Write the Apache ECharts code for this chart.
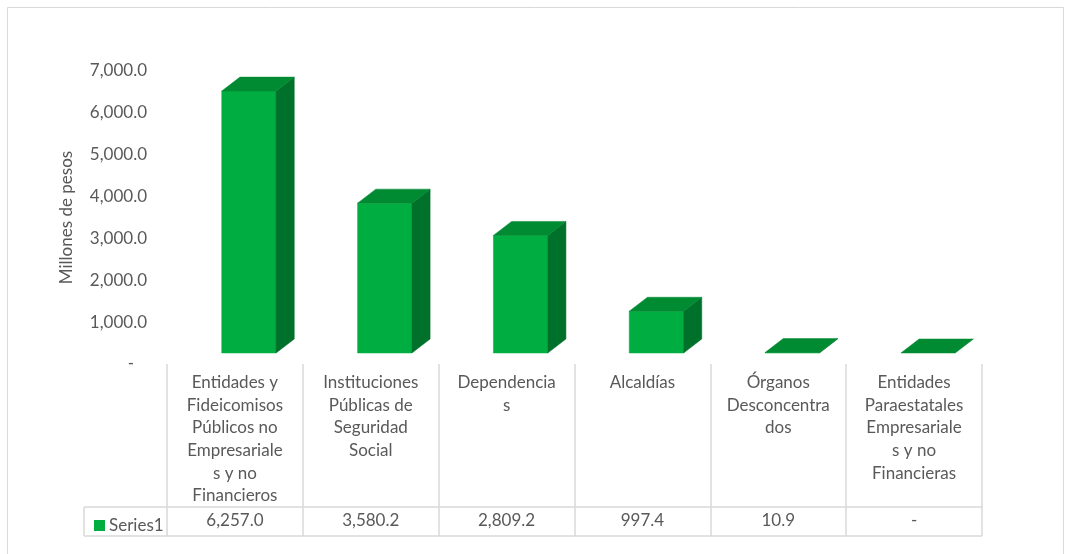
<!DOCTYPE html>
<html>
<head>
<meta charset="utf-8">
<script src="https://cdn.jsdelivr.net/npm/echarts@6/dist/echarts.min.js"></script>
<style>
html,body{margin:0;padding:0;background:#fff;}
#c{width:1065px;height:554px;}
</style>
</head>
<body>
<div id="c"></div>
<script>
// ---- data ----
const categories = [
  'Entidades y Fideicomisos Públicos no Empresariales y no Financieros',
  'Instituciones Públicas de Seguridad Social',
  'Dependencias',
  'Alcaldías',
  'Órganos Desconcentrados',
  'Entidades Paraestatales Empresariales y no Financieras'
];
// wrapped as shown in the chart's data table
const categoryLabels = [
  'Entidades y\nFideicomisos\nPúblicos no\nEmpresariale\ns y no\nFinancieros',
  'Instituciones\nPúblicas de\nSeguridad\nSocial',
  'Dependencia\ns',
  'Alcaldías',
  'Órganos\nDesconcentra\ndos',
  'Entidades\nParaestatales\nEmpresariale\ns y no\nFinancieras'
];
const seriesName = 'Series1';
const values = [6257.0, 3580.2, 2809.2, 997.4, 10.9, 0];
const yTicks = [0, 1000, 2000, 3000, 4000, 5000, 6000, 7000];

const FONT = 'Lato, "Open Sans", sans-serif';
const FS = 17;
const GRAY = '#595959';
const LINE = '#d9d9d9';
const FRONT = '#00AD41', TOP = '#008A32', SIDE = '#00712A';

function fmt(v) {
  if (v === 0) return '-';
  return v.toLocaleString('en-US', {minimumFractionDigits: 1, maximumFractionDigits: 1});
}

const chart = echarts.init(document.getElementById('c'));

const option = {
  backgroundColor: '#fff',
  animation: false,
  grid: {left: 167, right: 83, top: 71, bottom: 190},
  legend: {
    data: [seriesName], left: 89, top: 512,
    itemWidth: 11, itemHeight: 11, itemGap: 4, icon: 'rect',
    textStyle: {color: GRAY, fontSize: FS, fontFamily: FONT, padding: [0, 0, 0, -1]}
  },
  xAxis: [{
    type: 'category', data: categories, position: 'bottom',
    axisLine: {show: false},
    axisTick: {show: true, length: 172, lineStyle: {color: LINE, width: 1.5}},
    axisLabel: {
      interval: 0, margin: 7, color: GRAY, fontSize: FS, fontFamily: FONT,
      lineHeight: 22.7, verticalAlign: 'top', align: 'center',
      formatter: (val, idx) => categoryLabels[idx]
    },
    splitLine: {show: false}
  }, {
    type: 'category', data: categories, position: 'bottom',
    axisLine: {show: false}, axisTick: {show: false},
    axisLabel: {
      interval: 0, margin: 157, color: GRAY, fontSize: FS, fontFamily: FONT,
      verticalAlign: 'middle', formatter: (val, idx) => fmt(values[idx])
    }
  }],
  yAxis: {
    type: 'value', min: 0, max: 7000, interval: 1000,
    name: 'Millones de pesos', nameLocation: 'middle', nameGap: 92, nameRotate: 90,
    nameTextStyle: {color: GRAY, fontSize: FS, fontFamily: FONT},
    axisLine: {show: false}, axisTick: {show: false}, splitLine: {show: false},
    axisLabel: {
      color: GRAY, fontSize: FS, fontFamily: FONT, margin: 20,
      formatter: v => (yTicks.indexOf(v) >= 0 ? (v === 0 ? '-   ' : fmt(v)) : '')
    }
  },
  series: [{
    name: seriesName, type: 'custom', xAxisIndex: 0,
    itemStyle: {color: FRONT},
    data: values.map((v, i) => [i, v]),
    renderItem: function (params, api) {
      const i = api.value(0), v = api.value(1);
      const p0 = api.coord([i, 0]);
      const p1 = api.coord([i, v]);
      const colW = api.size([1, 0])[0];
      const fw = colW * 0.4;
      const cx = p0[0] + colW * 0.103;
      const shift = -11;
      const dx = colW * 0.134, dy = colW * 0.103;
      const x0 = cx - fw / 2, x1 = cx + fw / 2;
      const yb = p0[1] + shift, yt = p1[1] + shift;
      const children = [];
      if (yb - yt > 0.3) {
        children.push({type: 'rect', shape: {x: x0, y: yt, width: fw, height: yb - yt},
          style: {fill: FRONT, stroke: FRONT, lineWidth: 0.5}});
        children.push({type: 'polygon', shape: {points: [[x1, yt], [x1 + dx, yt - dy], [x1 + dx, yb - dy], [x1, yb]]},
          style: {fill: SIDE, stroke: SIDE, lineWidth: 0.5}});
      }
      children.push({type: 'polygon', shape: {points: [[x0, yt], [x1, yt], [x1 + dx, yt - dy], [x0 + dx, yt - dy]]},
        style: {fill: TOP, stroke: TOP, lineWidth: 0.5}});
      return {type: 'group', children: children};
    }
  }]
};
chart.setOption(option);

// table lines and chart frame
const gx0 = chart.convertToPixel({xAxisIndex: 0}, 0) - 0; // center of first category
const colW = chart.convertToPixel({xAxisIndex: 0}, 1) - chart.convertToPixel({xAxisIndex: 0}, 0);
const left = gx0 - colW / 2;
const right = left + colW * categories.length;
const rowTop = 507, rowBot = 536, keyLeft = 84;
const ls = {stroke: LINE, lineWidth: 1.5};
chart.setOption({
  graphic: [
    {type: 'rect', shape: {x: 7.5, y: 7.5, width: 1056, height: 560}, style: {fill: 'none', stroke: LINE, lineWidth: 1}, silent: true},
    {type: 'line', shape: {x1: keyLeft, y1: rowTop, x2: right, y2: rowTop}, style: ls},
    {type: 'line', shape: {x1: keyLeft, y1: rowBot, x2: right, y2: rowBot}, style: ls},
    {type: 'line', shape: {x1: keyLeft, y1: rowTop, x2: keyLeft, y2: rowBot}, style: ls}
  ]
});
</script>
</body>
</html>
